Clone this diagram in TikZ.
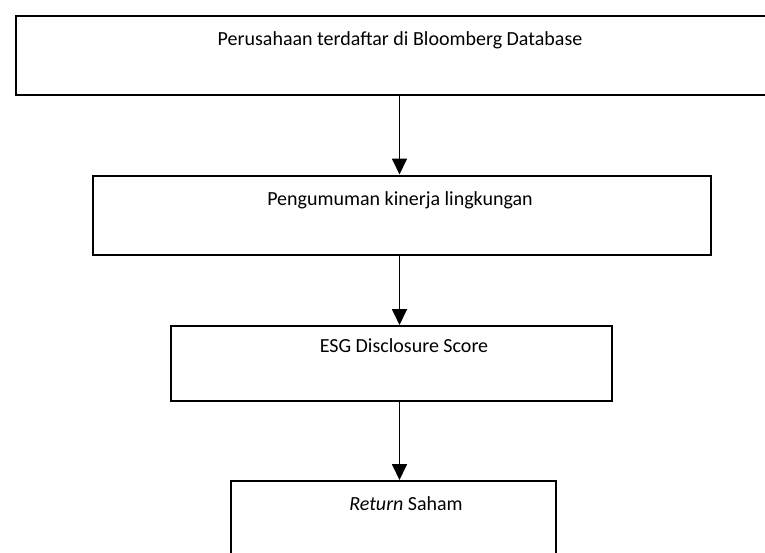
\documentclass[tikz,border=0pt]{standalone}
\usepackage{fontspec}
\setmainfont{Carlito}
\usetikzlibrary{arrows.meta}
\begin{document}
\begin{tikzpicture}[x=1pt,y=-1pt,
  box/.style={draw=black,line width=2pt,inner sep=0pt,anchor=north west},
  lbl/.style={font=\fontsize{20}{24}\selectfont,inner sep=0pt},
  arr/.style={line width=1.8pt,-{Triangle[length=16pt,width=15pt]}}]
\clip (0,0) rectangle (765,552);
\useasboundingbox (0,0) rectangle (765,552);
\node[box,minimum width=770pt,minimum height=79.5pt] (b1) at (15,14.5) {};
\node[box,minimum width=618pt,minimum height=79.5pt] (b2) at (92,174.5) {};
\node[box,minimum width=441pt,minimum height=75pt] (b3) at (170,325) {};
\node[box,minimum width=325pt,minimum height=90pt] (b4) at (230,480) {};
\node[lbl] (t1) at (400,40) {Perusahaan terdaftar di Bloomberg Database};
\node[lbl] (t2) at (400,200) {Pengumuman kinerja lingkungan};
\node[lbl] (t3) at (404,346) {ESG Disclosure Score};
\node[lbl] (t4) at (406,504) {\textit{Return} Saham};
\coordinate (ax) at (399.5,0);
\draw[arr] (b1.south -| ax) -- (b2.north -| ax);
\draw[arr] (b2.south -| ax) -- (b3.north -| ax);
\draw[arr] (b3.south -| ax) -- (b4.north -| ax);
\end{tikzpicture}
\end{document}
